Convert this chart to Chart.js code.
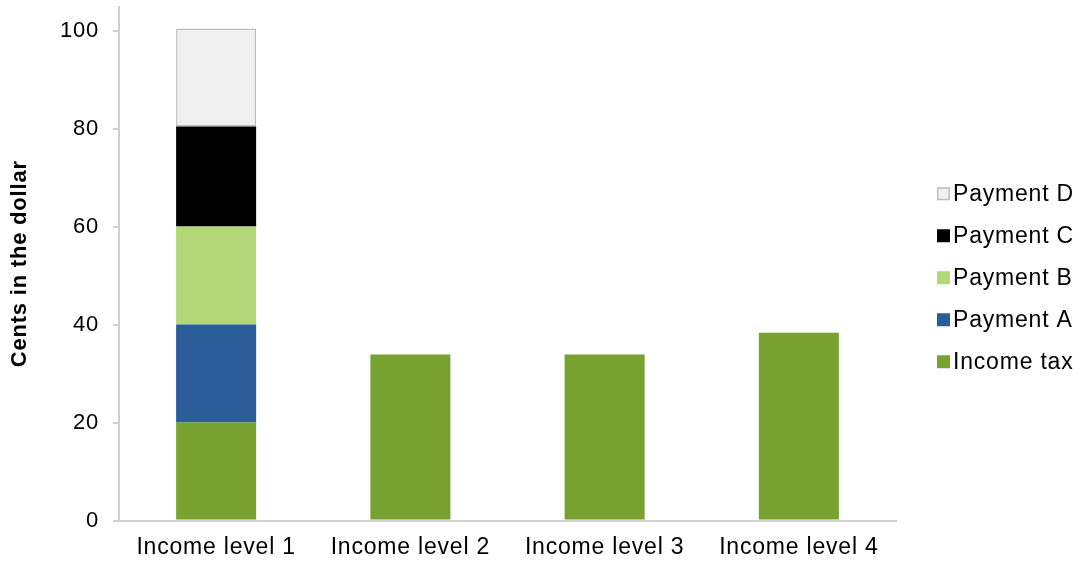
<!DOCTYPE html>
<html><head><meta charset="utf-8">
<script src="https://cdn.jsdelivr.net/npm/chart.js@4.4.0/dist/chart.umd.min.js"></script>
<style>html,body{margin:0;padding:0;background:#fff}#wrap{width:1083px;height:562px}canvas{display:block}</style>
</head><body><div id="wrap"><canvas id="c" width="1083" height="562"></canvas></div>
<script>
const categories = ['Income level 1', 'Income level 2', 'Income level 3', 'Income level 4'];
const incomeTax = [20, 33.9, 33.9, 38.3];
const paymentA = [20, null, null, null];
const paymentB = [20, null, null, null];
const paymentC = [20.4, null, null, null];
const paymentD = [20, null, null, null];
const yTicks = [0, 20, 40, 60, 80, 100];
const yTitle = 'Cents in the dollar';

const FAMILY = '"Liberation Sans", Arial, sans-serif';
const LS = '0.8px';

const spacingPlugin = {
  id: 'letterSpacing',
  beforeInit(chart) { chart.ctx.letterSpacing = LS; },
  beforeLayout(chart) { chart.ctx.letterSpacing = LS; },
  beforeDraw(chart) { chart.ctx.letterSpacing = LS; }
};

const sideLegend = {
  id: 'sideLegend',
  afterDraw(chart) {
    const ctx = chart.ctx, a = chart.chartArea;
    const items = chart.data.datasets.map(d => ({
      label: d.label, bg: d.backgroundColor, bc: d.borderColor, bw: d.borderWidth
    })).reverse();
    const step = 42;
    const mid = (a.top + a.bottom) / 2 + 14;
    const y0 = mid - step * (items.length - 1) / 2;
    const x = a.right + 41;
    ctx.save();
    ctx.letterSpacing = LS;
    ctx.font = '23px ' + FAMILY;
    ctx.textBaseline = 'middle';
    ctx.textAlign = 'left';
    items.forEach((it, i) => {
      const y = y0 + i * step;
      ctx.fillStyle = it.bg;
      ctx.fillRect(x, y - 6.5, 13, 13);
      if (it.bw) {
        ctx.strokeStyle = it.bc;
        ctx.lineWidth = 1.5;
        ctx.strokeRect(x + 0.75, y - 5.75, 11.5, 11.5);
      }
      ctx.fillStyle = '#000';
      ctx.fillText(it.label, x + 16, y + 1);
    });
    ctx.restore();
  }
};

new Chart(document.getElementById('c'), {
  type: 'bar',
  data: {
    labels: categories,
    datasets: [
      { label: 'Income tax', data: incomeTax, backgroundColor: '#78a22f', borderWidth: 0 },
      { label: 'Payment A', data: paymentA, backgroundColor: '#2a5c99', borderWidth: 0 },
      { label: 'Payment B', data: paymentB, backgroundColor: '#b4d77a', borderWidth: 0 },
      { label: 'Payment C', data: paymentC, backgroundColor: '#000000', borderWidth: 0 },
      { label: 'Payment D', data: paymentD, backgroundColor: '#f0f0f0', borderColor: '#bdbdbd', borderWidth: 1.5, borderSkipped: false }
    ]
  },
  options: {
    responsive: false,
    animation: false,
    devicePixelRatio: 1,
    layout: { padding: { left: 0, top: 7, right: 187, bottom: 0 } },
    datasets: { bar: { categoryPercentage: 1, barPercentage: 0.412 } },
    plugins: { legend: { display: false }, tooltip: { enabled: false } },
    scales: {
      x: {
        stacked: true,
        afterFit(s) { s.height = 41.5; },
        border: { display: true, color: '#d0d0d0', width: 2 },
        grid: { display: false, drawTicks: false },
        ticks: { color: '#000', padding: 13, font: { size: 23, family: FAMILY }, maxRotation: 0 }
      },
      y: {
        stacked: true,
        min: 0,
        max: 104.8,
        afterBuildTicks(s) { s.ticks = yTicks.map(v => ({ value: v })); },
        afterFit(s) { s.width = 119; s.paddingTop = 0; s.paddingBottom = 0; },
        border: { display: true, color: '#d0d0d0', width: 2 },
        grid: { drawOnChartArea: false, drawTicks: true, tickLength: 6, color: '#d0d0d0', lineWidth: 2 },
        ticks: { color: '#000', padding: 14, font: { size: 22, family: FAMILY } },
        title: { display: true, text: yTitle, color: '#000', font: { size: 22, weight: 'bold', family: FAMILY }, padding: { top: 7, bottom: 4 } }
      }
    }
  },
  plugins: [spacingPlugin, sideLegend]
});
</script>
</body></html>
